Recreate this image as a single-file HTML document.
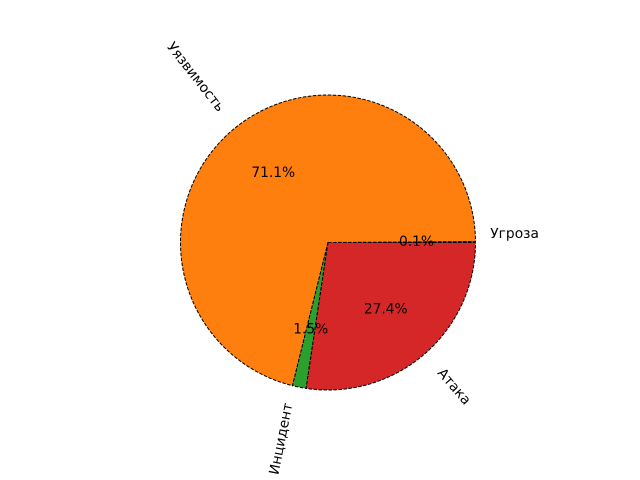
<!DOCTYPE html>
<html><head><meta charset="utf-8"><style>
html,body{margin:0;padding:0;background:#fff;}
svg{display:block;font-family:"DejaVu Sans","Liberation Sans",sans-serif;}
</style></head><body>
<svg id="chart" width="640" height="480" viewBox="0 0 640 480"></svg>
<script>
const categories = ["Угроза", "Уязвимость", "Инцидент", "Атака"];
const values = [0.1, 71.1, 1.5, 27.4];
const pctLabels = ["0.1%", "71.1%", "1.5%", "27.4%"];
const colors = ["#1f77b4", "#ff7f0e", "#2ca02c", "#d62728"];

const NS = "http://www.w3.org/2000/svg";
const svg = document.getElementById("chart");
const cx = 328, cy = 242.5, R = 147.5, FS = 13.8, LH = 16;
const total = values.reduce((a, b) => a + b, 0);
function pt(r, deg) { const a = deg * Math.PI / 180; return [cx + r * Math.cos(a), cy - r * Math.sin(a)]; }

const mids = [];
let start = 0;
values.forEach((v, i) => {
  const sweep = v / total * 360;
  const end = start + sweep;
  const [x1, y1] = pt(R, start), [x2, y2] = pt(R, end);
  const large = sweep > 180 ? 1 : 0;
  const p = document.createElementNS(NS, "path");
  p.setAttribute("d", `M${cx},${cy} L${x1},${y1} A${R},${R} 0 ${large} 0 ${x2},${y2} Z`);
  p.setAttribute("fill", colors[i]);
  p.setAttribute("stroke", "#000");
  p.setAttribute("stroke-width", "1");
  p.setAttribute("stroke-dasharray", "3.5,1.5");
  
  
  svg.appendChild(p);
  mids.push(start + sweep / 2);
  start = end;
});

mids.forEach((mid, i) => {
  const a = mid * Math.PI / 180;
  const [lx, ly] = pt(R * 1.1, mid);
  let rot = mid;
  if (rot > 90 && rot < 270) rot -= 180;
  const t = document.createElementNS(NS, "text");
  t.setAttribute("text-anchor", "middle");
  t.setAttribute("dominant-baseline", "central");
  t.setAttribute("font-size", FS);
  t.textContent = categories[i];
  
  
  svg.appendChild(t);
  const w = t.getComputedTextLength();
  const r = rot * Math.PI / 180;
  const bw = w * Math.abs(Math.cos(r)) + LH * Math.abs(Math.sin(r));
  const bh = w * Math.abs(Math.sin(r)) + LH * Math.abs(Math.cos(r));
  const tx = lx + (Math.cos(a) >= 0 ? bw / 2 : -bw / 2);
  const ty = ly + (Math.sin(a) >= 0 ? -bh / 2 : bh / 2);
  t.setAttribute("x", tx); t.setAttribute("y", ty);
  t.setAttribute("transform", `rotate(${-rot} ${tx} ${ty})`);

  const [px, py] = pt(R * 0.6, mid);
  const q = document.createElementNS(NS, "text");
  q.setAttribute("x", px); q.setAttribute("y", py);
  q.setAttribute("text-anchor", "middle");
  q.setAttribute("dominant-baseline", "central");
  q.setAttribute("font-size", FS);
  q.textContent = pctLabels[i];
  
  
  svg.appendChild(q);
});
</script>
</body></html>
